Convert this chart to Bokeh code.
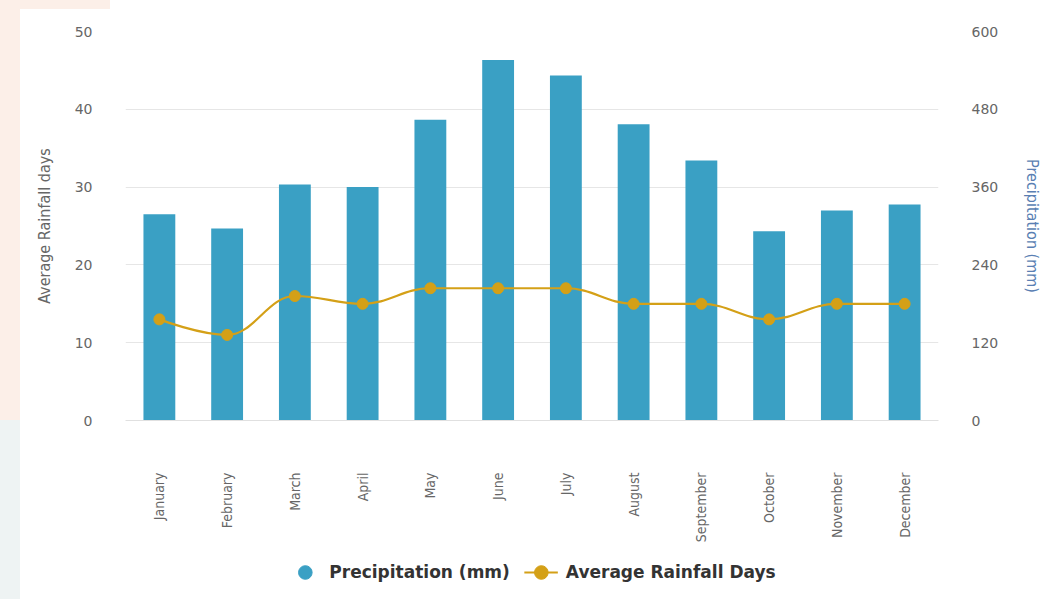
from bokeh.plotting import figure
from bokeh.models import (ColumnDataSource, Range1d, FactorRange, LinearAxis, FixedTicker,
                          Legend, LegendItem)
from bokeh.layouts import column
from bokeh.embed import file_html
from bokeh.resources import INLINE

months = ["January", "February", "March", "April", "May", "June", "July",
          "August", "September", "October", "November", "December"]
precipitation_mm = [318, 296, 364, 360, 464, 556, 532, 457, 401, 292, 324, 333]
rainfall_days = [13, 11, 16, 15, 17, 17, 17, 15, 15, 13, 15, 15]
days_ticks = [0, 10, 20, 30, 40, 50]
precip_ticks = [0, 120, 240, 360, 480, 600]

BAR = "#3aa0c4"
LINE = "#d4a017"
COND = "DejaVu Sans Condensed"

p = figure(width=1059, height=545, x_range=FactorRange(*months, range_padding=0),
           y_range=Range1d(0, 50), output_backend="svg", toolbar_location=None,
           min_border_left=125, min_border_right=121, min_border_top=31, min_border_bottom=125)
p.extra_y_ranges = {"precip": Range1d(0, 600)}
p.outline_line_color = None
p.background_fill_color = "white"
p.border_fill_color = None

# bars
src = ColumnDataSource(dict(month=months, precip=precipitation_mm, days=rainfall_days))
p.vbar(x="month", top="precip", width=0.47, source=src, y_range_name="precip",
       fill_color=BAR, line_color=None)

# spline (Highcharts-style smoothing) from the data points
xs = [i + 0.5 for i in range(len(rainfall_days))]
ys = list(rainfall_days)
n = len(xs)
rc = [None] * n
lc = [None] * n
sm = 1.5
den = sm + 1
for i in range(1, n - 1):
    px, py = xs[i], ys[i]
    lx, ly = xs[i - 1], ys[i - 1]
    nx, ny = xs[i + 1], ys[i + 1]
    lcx = (sm * px + lx) / den
    lcy = (sm * py + ly) / den
    rcx = (sm * px + nx) / den
    rcy = (sm * py + ny) / den
    corr = 0
    if rcx != lcx:
        corr = ((rcy - lcy) * (rcx - px)) / (rcx - lcx) + py - rcy
    lcy += corr
    rcy += corr
    if lcy > ly and lcy > py:
        lcy = max(ly, py); rcy = 2 * py - lcy
    elif lcy < ly and lcy < py:
        lcy = min(ly, py); rcy = 2 * py - lcy
    if rcy > ny and rcy > py:
        rcy = max(ny, py); lcy = 2 * py - rcy
    elif rcy < ny and rcy < py:
        rcy = min(ny, py); lcy = 2 * py - rcy
    lc[i] = (lcx, lcy)
    rc[i] = (rcx, rcy)
bz = dict(x0=[], y0=[], x1=[], y1=[], cx0=[], cy0=[], cx1=[], cy1=[])
for i in range(1, n):
    bz["x0"].append(xs[i - 1]); bz["y0"].append(ys[i - 1])
    bz["x1"].append(xs[i]); bz["y1"].append(ys[i])
    c0 = rc[i - 1] if rc[i - 1] else (xs[i - 1], ys[i - 1])
    c1 = lc[i] if lc[i] else (xs[i], ys[i])
    bz["cx0"].append(c0[0]); bz["cy0"].append(c0[1])
    bz["cx1"].append(c1[0]); bz["cy1"].append(c1[1])
p.bezier(x0="x0", y0="y0", x1="x1", y1="y1", cx0="cx0", cy0="cy0", cx1="cx1", cy1="cy1",
         source=ColumnDataSource(bz), line_color=LINE, line_width=2.2)
p.scatter(x="month", y="days", source=src, size=11, fill_color=LINE, line_color=LINE)

# axes
p.xgrid.grid_line_color = None
p.ygrid.grid_line_color = "#e6e6e6"
p.ygrid.ticker = FixedTicker(ticks=days_ticks)

xa = p.xaxis[0]
xa.axis_line_color = "#e0e0e0"
xa.major_tick_line_color = None
xa.minor_tick_line_color = None
xa.major_label_orientation = 1.5708
xa.major_label_standoff = 46
xa.major_label_text_font = COND
xa.major_label_text_font_size = "14px"
xa.major_label_text_color = "#666666"

ya = p.yaxis[0]
ya.ticker = FixedTicker(ticks=days_ticks)
ya.axis_line_color = None
ya.major_tick_line_color = None
ya.minor_tick_line_color = None
ya.major_label_standoff = 27
ya.major_label_text_font = "DejaVu Sans"
ya.major_label_text_font_size = "14px"
ya.major_label_text_color = "#666666"
ya.axis_label = "Average Rainfall days"
ya.axis_label_text_font = COND
ya.axis_label_text_font_style = "normal"
ya.axis_label_text_font_size = "16px"
ya.axis_label_text_color = "#666666"
ya.axis_label_standoff = 18

ra = LinearAxis(y_range_name="precip", ticker=FixedTicker(ticks=precip_ticks))
ra.axis_line_color = None
ra.major_tick_line_color = None
ra.minor_tick_line_color = None
ra.major_label_standoff = 27
ra.major_label_text_font = "DejaVu Sans"
ra.major_label_text_font_size = "14px"
ra.major_label_text_color = "#666666"
ra.axis_label = "Precipitation (mm)"
ra.axis_label_text_font = COND
ra.axis_label_text_font_style = "normal"
ra.axis_label_text_font_size = "16px"
ra.axis_label_text_color = "#5a7fb3"
ra.axis_label_standoff = 22
p.add_layout(ra, "right")

# legend strip (separate small figure; its renderers lie outside the visible range)
lf = figure(width=1059, height=54, x_range=FactorRange(*months), y_range=Range1d(1000, 2000),
            output_backend="svg", toolbar_location=None, x_axis_location=None,
            y_axis_location=None, min_border=0)
lf.outline_line_color = None
lf.background_fill_color = None
lf.border_fill_color = None
lf.grid.grid_line_color = None
leg_bar = lf.scatter(x="month", y="precip", source=src, size=18, fill_color=BAR, line_color=BAR)
leg_line = lf.line(x="month", y="days", source=src, line_color=LINE, line_width=2.2)
leg_dot = lf.scatter(x="month", y="days", source=src, size=11, fill_color=LINE, line_color=LINE)
legend = Legend(items=[LegendItem(label="Precipitation (mm)", renderers=[leg_bar]),
                       LegendItem(label="Average Rainfall Days", renderers=[leg_line, leg_dot])],
                orientation="horizontal", location="center", border_line_color=None,
                background_fill_alpha=0, label_text_font="DejaVu Sans",
                label_text_font_style="bold", label_text_font_size="17px",
                label_text_color="#333333", glyph_width=34, glyph_height=40, spacing=14,
                padding=2, margin=0, label_standoff=8)
lf.add_layout(legend, "center")

bg = ("linear-gradient(#fcefe8,#fcefe8) 0 0 / 20px 420px no-repeat, "
      "linear-gradient(#fcefe8,#fcefe8) 0 0 / 110px 9px no-repeat, "
      "linear-gradient(#eef3f3,#eef3f3) 0 420px / 20px 183px no-repeat, white")
layout = column(p, lf, spacing=0, styles={"background": bg})

open("out.html", "w").write(file_html(layout, INLINE))
